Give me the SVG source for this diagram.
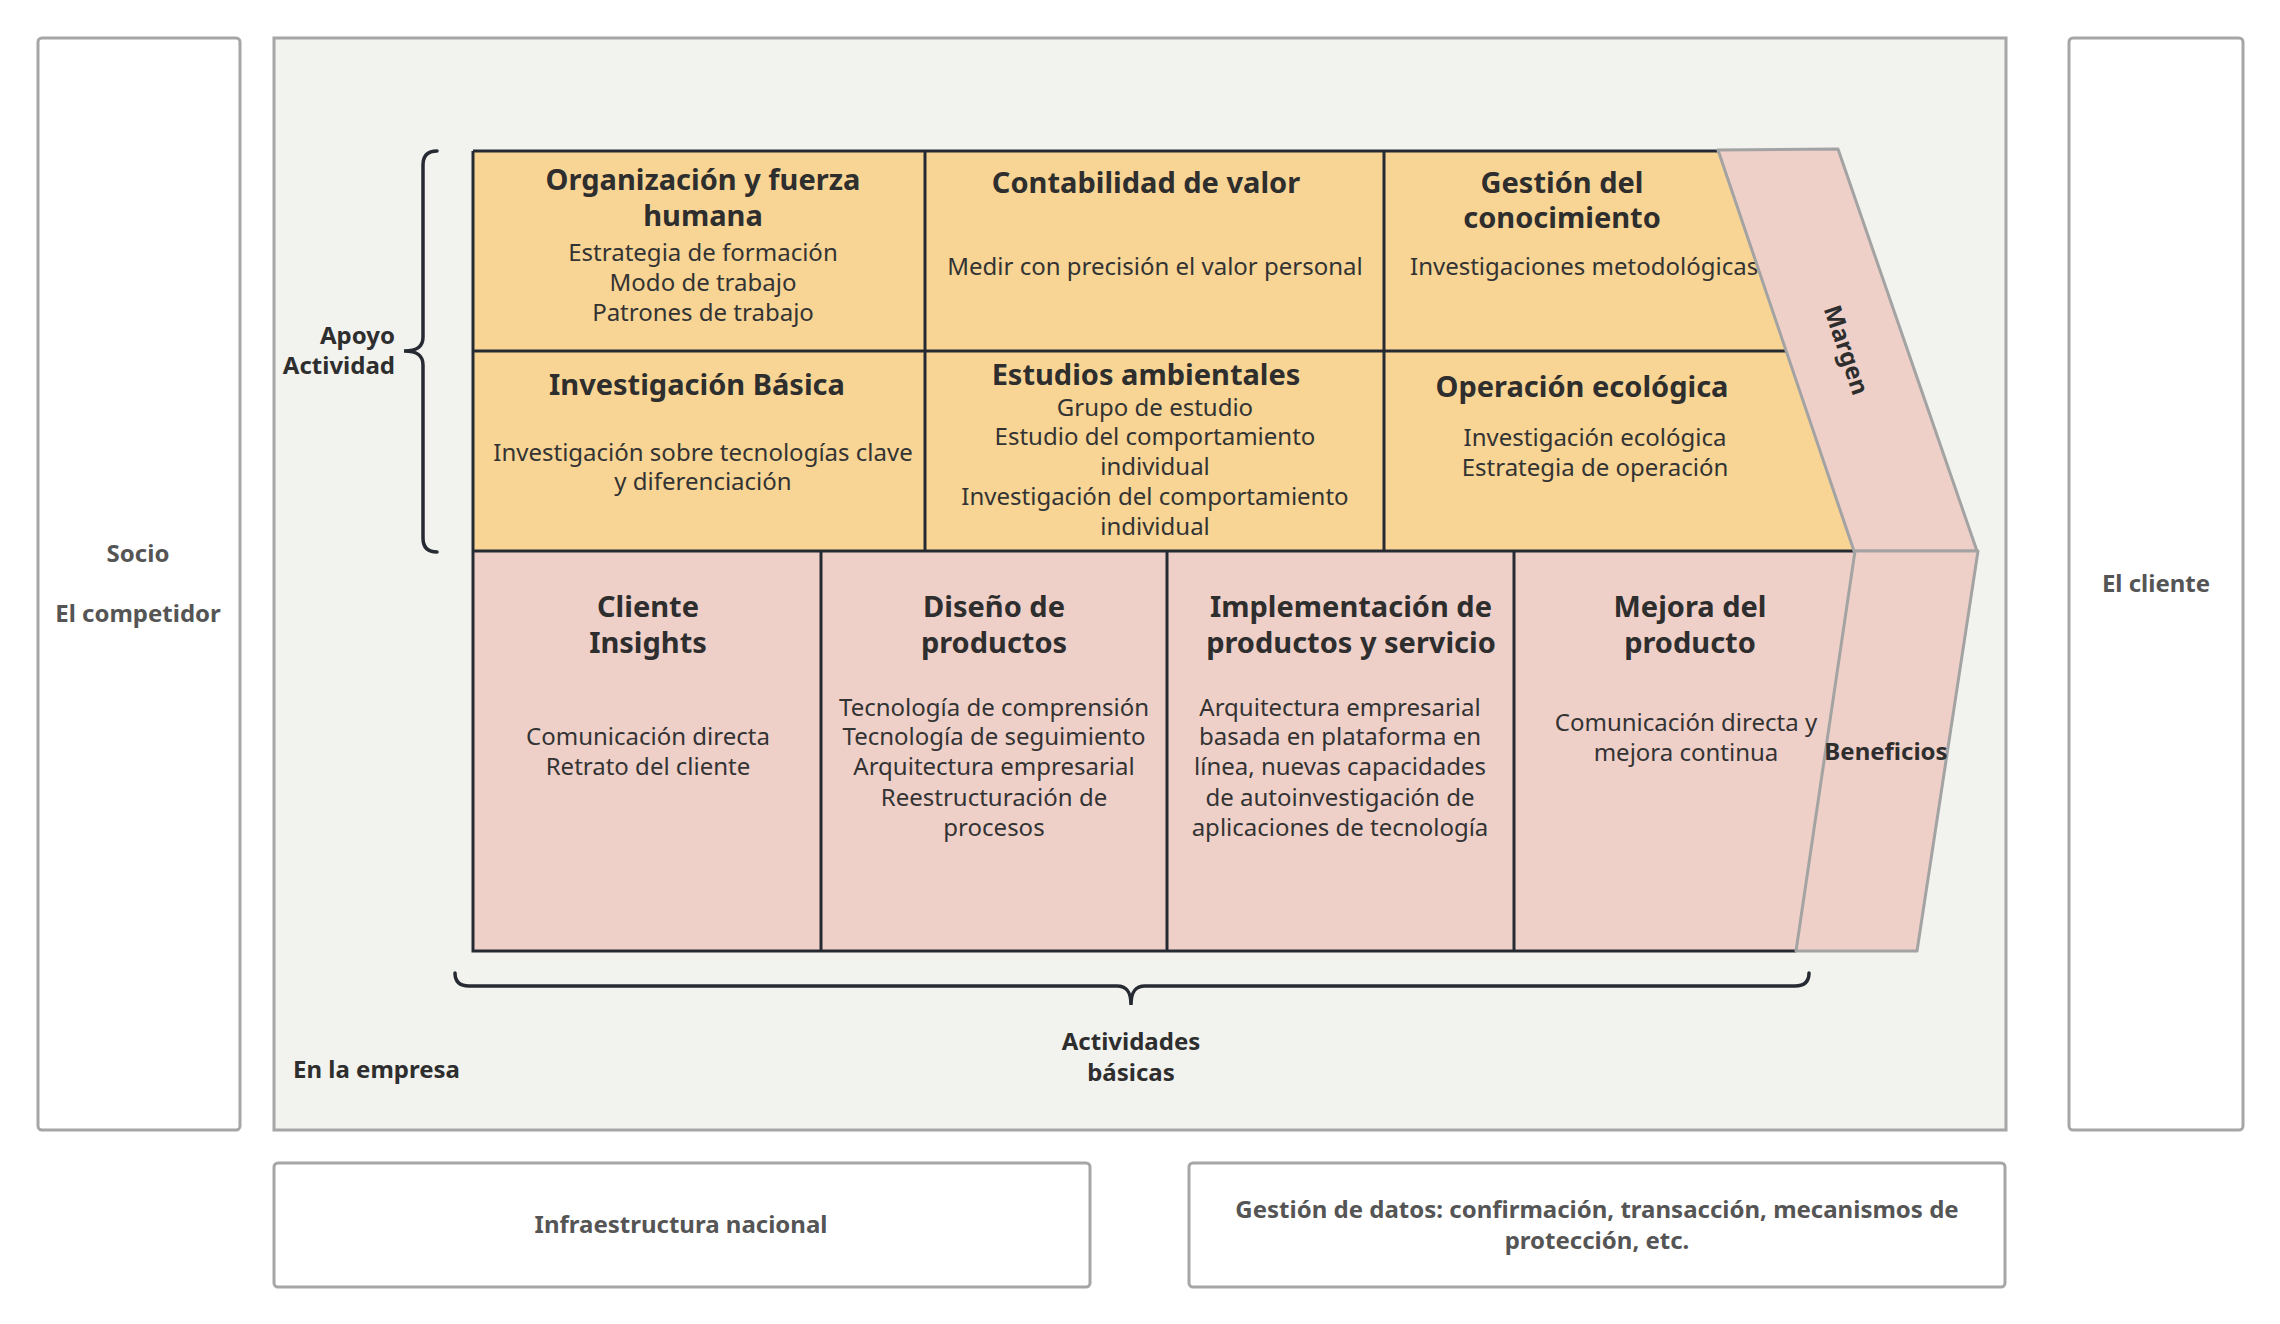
<svg xmlns="http://www.w3.org/2000/svg" width="2280" height="1324" viewBox="0 0 2280 1324">
<style>
text{font-family:"Noto Sans","Open Sans","Liberation Sans",sans-serif;}
.box{fill:#ffffff;stroke:#a6a6a6;stroke-width:3;}
.main{fill:#f2f2ee;stroke:#a6a6a6;stroke-width:3;}
.yel{fill:#f8d594;stroke:none;}
.pink{fill:#efd0c9;stroke:none;}
.band{fill:#efd0c9;stroke:#a3a3a3;stroke-width:3;stroke-linejoin:round;}
.ln{stroke:#262b33;stroke-width:3;fill:none;}
.brace{stroke:#262b33;stroke-width:3.5;fill:none;stroke-linecap:round;}
.t{font-size:29px;font-weight:bold;fill:#2e2e2e;text-anchor:middle;}
.s{font-size:24px;fill:#333333;text-anchor:middle;}
.lb{font-size:24px;font-weight:bold;fill:#2e2e2e;}
.g{font-size:24px;font-weight:bold;fill:#555555;text-anchor:middle;}
</style>

<g id="socio">
<rect class="box" x="38" y="38" width="202" height="1092" rx="4"/>
<text class="g" x="138" y="562">Socio</text>
<text class="g" x="138" y="622">El competidor</text>
</g>

<g id="empresa">
<rect class="main" x="274" y="38" width="1732" height="1092"/>
<text class="lb" x="293" y="1078">En la empresa</text>
</g>

<g id="cliente">
<rect class="box" x="2069" y="38" width="174" height="1092" rx="4"/>
<text class="g" x="2156" y="592">El cliente</text>
</g>

<g id="infraestructura">
<rect class="box" x="274" y="1163" width="816" height="124" rx="4"/>
<text class="g" x="681" y="1233">Infraestructura nacional</text>
</g>

<g id="gestion-datos">
<rect class="box" x="1189" y="1163" width="816" height="124" rx="4"/>
<text class="g" x="1597" y="1218">Gestión de datos: confirmación, transacción, mecanismos de</text>
<text class="g" x="1597" y="1249">protección, etc.</text>
</g>

<g id="apoyo-fondo">
<polygon class="yel" points="473,151 1718,151 1854,551 473,551"/>
</g>

<g id="organizacion">
<text class="t" x="703" y="190">Organización y fuerza</text>
<text class="t" x="703" y="226">humana</text>
<text class="s" x="703" y="261">Estrategia de formación</text>
<text class="s" x="703" y="291">Modo de trabajo</text>
<text class="s" x="703" y="321">Patrones de trabajo</text>
</g>

<g id="contabilidad">
<text class="t" x="1146" y="193">Contabilidad de valor</text>
<text class="s" x="1155" y="275">Medir con precisión el valor personal</text>
</g>

<g id="gestion-conocimiento">
<text class="t" x="1562" y="193">Gestión del</text>
<text class="t" x="1562" y="228">conocimiento</text>
<text class="s" x="1410" y="275" style="text-anchor:start">Investigaciones metodológicas</text>
</g>

<g id="investigacion-basica">
<text class="t" x="697" y="395">Investigación Básica</text>
<text class="s" x="703" y="461">Investigación sobre tecnologías clave</text>
<text class="s" x="703" y="490">y diferenciación</text>
</g>

<g id="estudios-ambientales">
<text class="t" x="1146" y="385">Estudios ambientales</text>
<text class="s" x="1155" y="416">Grupo de estudio</text>
<text class="s" x="1155" y="445">Estudio del comportamiento</text>
<text class="s" x="1155" y="475">individual</text>
<text class="s" x="1155" y="505">Investigación del comportamiento</text>
<text class="s" x="1155" y="535">individual</text>
</g>

<g id="operacion-ecologica">
<text class="t" x="1582" y="397">Operación ecológica</text>
<text class="s" x="1595" y="446">Investigación ecológica</text>
<text class="s" x="1595" y="476">Estrategia de operación</text>
</g>

<g id="basicas-fondo">
<polygon class="pink" points="473,551 1855,551 1796,951 473,951"/>
</g>

<g id="cliente-insights">
<text class="t" x="648" y="617">Cliente</text>
<text class="t" x="648" y="653">Insights</text>
<text class="s" x="648" y="745">Comunicación directa</text>
<text class="s" x="648" y="775">Retrato del cliente</text>
</g>

<g id="diseno">
<text class="t" x="994" y="617">Diseño de</text>
<text class="t" x="994" y="653">productos</text>
<text class="s" x="994" y="716">Tecnología de comprensión</text>
<text class="s" x="994" y="745">Tecnología de seguimiento</text>
<text class="s" x="994" y="775">Arquitectura empresarial</text>
<text class="s" x="994" y="806">Reestructuración de</text>
<text class="s" x="994" y="836">procesos</text>
</g>

<g id="implementacion">
<text class="t" x="1351" y="617">Implementación de</text>
<text class="t" x="1351" y="653">productos y servicio</text>
<text class="s" x="1340" y="716">Arquitectura empresarial</text>
<text class="s" x="1340" y="745">basada en plataforma en</text>
<text class="s" x="1340" y="775">línea, nuevas capacidades</text>
<text class="s" x="1340" y="806">de autoinvestigación de</text>
<text class="s" x="1340" y="836">aplicaciones de tecnología</text>
</g>

<g id="mejora">
<text class="t" x="1690" y="617">Mejora del</text>
<text class="t" x="1690" y="653">producto</text>
<text class="s" x="1686" y="731">Comunicación directa y</text>
<text class="s" x="1686" y="761">mejora continua</text>
</g>

<g id="lineas">
<path class="ln" d="M473,151 H1718 M473,151 V951 H1796 M473,351 H1786 M473,551 H1854 M925,151 V551 M1384,151 V551 M821,551 V951 M1167,551 V951 M1514,551 V951"/>
</g>

<g id="margen">
<polygon class="band" points="1718,150 1838,149 1977,551 1854,551"/>
<text class="lb" x="0" y="0" text-anchor="middle" transform="translate(1846,350) rotate(71.3) translate(0,8)">Margen</text>
</g>

<g id="beneficios">
<polygon class="band" points="1855,551 1978,551 1917,951 1796,951"/>
<text class="lb" x="1886" y="760" text-anchor="middle">Beneficios</text>
</g>

<g id="apoyo">
<path class="brace" d="M437,151 C427,151 423,156 423,165 L423,337 C423,346 418,351 404,351 C418,351 423,356 423,365 L423,538 C423,547 427,552 437,552"/>
<text class="lb" x="395" y="344" text-anchor="end">Apoyo</text>
<text class="lb" x="395" y="374" text-anchor="end">Actividad</text>
</g>

<g id="actividades-basicas">
<path class="brace" d="M455,973 C455,982 460,986 469,986 L1117,986 C1126,986 1131,991 1131,1005 C1131,991 1136,986 1145,986 L1795,986 C1804,986 1809,982 1809,973"/>
<text class="lb" x="1131" y="1050" text-anchor="middle">Actividades</text>
<text class="lb" x="1131" y="1081" text-anchor="middle">básicas</text>
</g>
</svg>
